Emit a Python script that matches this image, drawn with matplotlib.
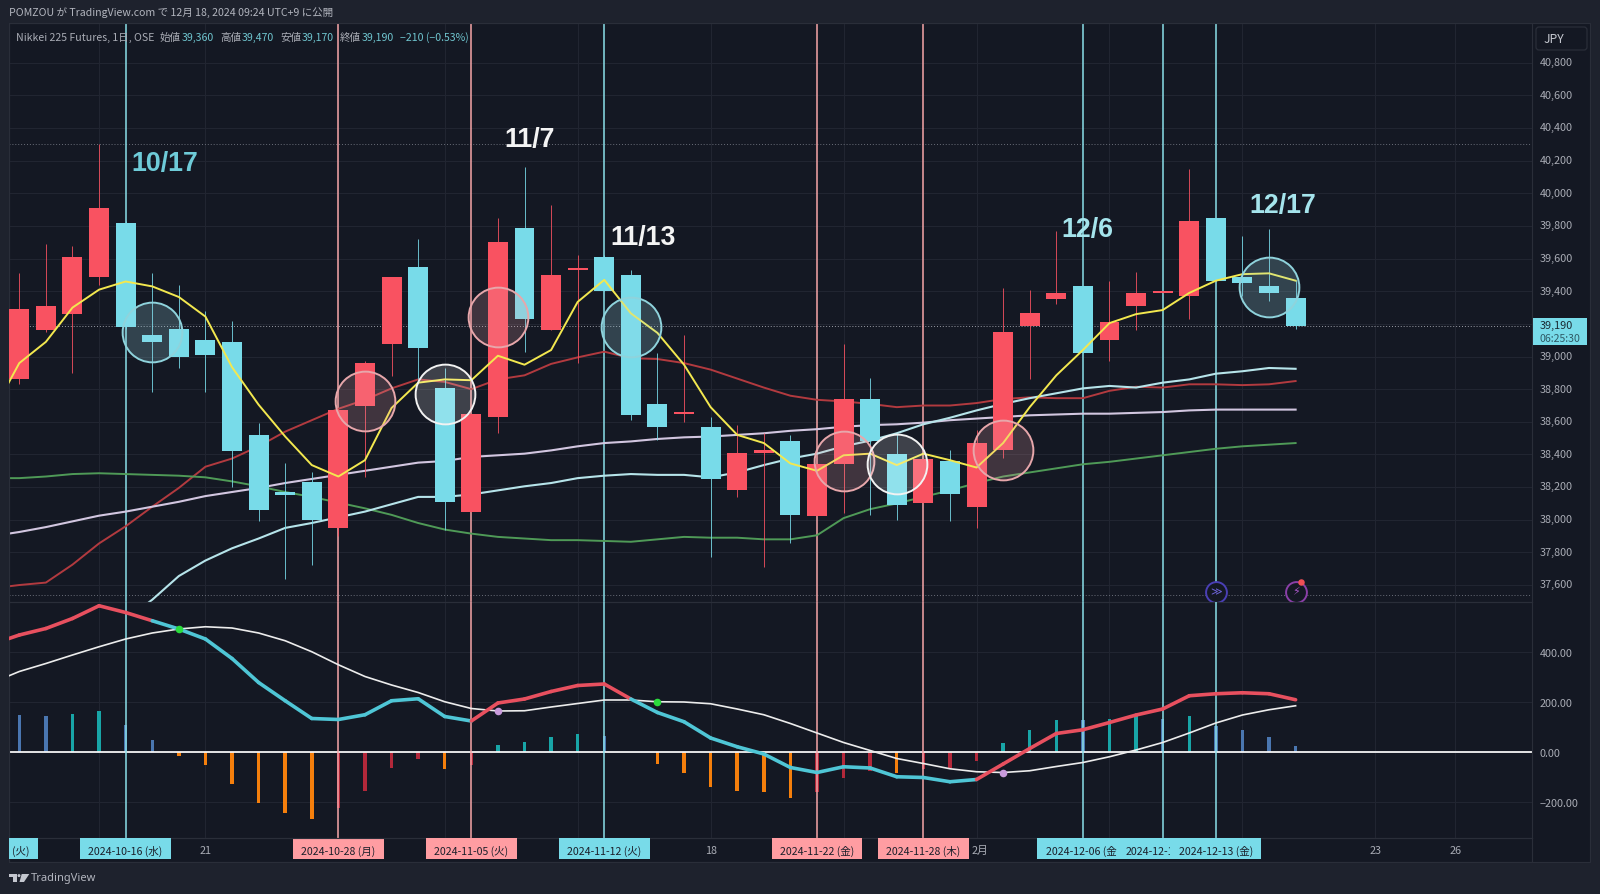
import numpy as np
import matplotlib
matplotlib.use("Agg")
import matplotlib.pyplot as plt
from matplotlib.patches import Rectangle, FancyBboxPatch, Polygon, Circle
from matplotlib.transforms import ScaledTranslation

plt.rcParams['font.family'] = ['Noto Sans CJK JP', 'DejaVu Sans']

# candles, one per session
opens = [38860, 39160, 39260, 39490, 39820, 39130, 39170, 39100, 39090, 38520,
         38170, 38230, 37950, 38700, 39080, 39550, 38810, 38050, 38630, 39790,
         39160, 39530, 39610, 39500, 38710, 38650, 38570, 38180, 38410, 38480,
         38020, 38340, 38740, 38400, 38100, 38360, 38080, 38430, 39190, 39350,
         39430, 39100, 39310, 39390, 39370, 39850, 39490, 39430, 39360]
closes = [39290, 39310, 39610, 39910, 39180, 39090, 39000, 39010, 38420, 38060,
          38150, 38000, 38670, 38960, 39490, 39050, 38110, 38650, 39700, 39230,
          39500, 39540, 39400, 38640, 38570, 38660, 38250, 38410, 38430, 38030,
          38340, 38740, 38480, 38090, 38370, 38160, 38470, 39150, 39270, 39390,
          39020, 39210, 39390, 39400, 39830, 39460, 39450, 39390, 39190]
highs = [39510, 39690, 39680, 40300, 39830, 39510, 39440, 39280, 39220, 38590,
         38350, 38290, 38680, 38970, 39490, 39720, 38930, 38650, 39850, 40160,
         39930, 39620, 39620, 39530, 39020, 39130, 38630, 38580, 38530, 38520,
         38340, 39080, 38870, 38530, 38370, 38430, 38550, 39420, 39410, 39770,
         39430, 39460, 39520, 39400, 40150, 39850, 39740, 39780, 39470]
lows = [38830, 39150, 38900, 39440, 39170, 38780, 38930, 38780, 38200, 37990,
        37640, 37720, 37900, 38260, 38880, 38860, 37940, 38050, 38530, 39030,
        39160, 38960, 39400, 38610, 38490, 38600, 37770, 38140, 37710, 37860,
        38020, 38040, 38030, 38000, 38100, 37990, 37950, 38380, 38860, 39320,
        39020, 38970, 39160, 39390, 39230, 39460, 39370, 39340, 39170]

# moving averages, first value sits one session left of the visible range
ma_yellow = [38660, 38960, 39090, 39300, 39410, 39460, 39430, 39365, 39245, 38935,
             38705, 38510, 38335, 38265, 38365, 38685, 38840, 38860, 38855, 39005,
             38950, 39040, 39335, 39470, 39265, 39145, 38950, 38690, 38520, 38470,
             38345, 38300, 38395, 38405, 38335, 38405, 38365, 38320, 38470, 38690,
             38885, 39040, 39205, 39260, 39285, 39390, 39465, 39505, 39510, 39465]
ma_red = [37580, 37600, 37615, 37725, 37855, 37960, 38080, 38195, 38325, 38375,
          38450, 38540, 38610, 38680, 38735, 38805, 38860, 38845, 38800, 38860,
          38885, 38955, 38995, 39030, 38990, 38985, 38960, 38920, 38865, 38810,
          38760, 38735, 38725, 38710, 38690, 38700, 38700, 38715, 38740, 38750,
          38745, 38745, 38790, 38815, 38810, 38830, 38830, 38825, 38830, 38850]
ma_lavender = [37900, 37925, 37955, 37990, 38025, 38050, 38080, 38110, 38145, 38170,
               38195, 38225, 38250, 38275, 38300, 38325, 38350, 38360, 38385, 38395,
               38405, 38425, 38450, 38470, 38480, 38495, 38505, 38510, 38520, 38530,
               38545, 38555, 38570, 38580, 38585, 38595, 38610, 38620, 38630, 38640,
               38645, 38650, 38650, 38655, 38660, 38670, 38675, 38675, 38675, 38675]
ma_green = [38255, 38255, 38265, 38280, 38285, 38280, 38275, 38270, 38260, 38235,
            38205, 38170, 38140, 38105, 38070, 38030, 37980, 37940, 37915, 37895,
            37885, 37875, 37875, 37870, 37865, 37880, 37895, 37890, 37890, 37880,
            37880, 37905, 38010, 38065, 38100, 38140, 38180, 38225, 38265, 38290,
            38315, 38340, 38355, 38375, 38395, 38415, 38435, 38450, 38460, 38470]
# this one only starts at session 4
ma_blue = [37385, 37510, 37655, 37750, 37825, 37885, 37950, 37980, 38015, 38050,
           38095, 38140, 38140, 38155, 38180, 38205, 38225, 38255, 38270, 38280,
           38275, 38275, 38260, 38290, 38335, 38375, 38405, 38450, 38485, 38530,
           38585, 38625, 38670, 38710, 38745, 38775, 38805, 38820, 38810, 38840,
           38860, 38895, 38910, 38930, 38925]

# MACD pane, also starting one session left of the visible range
macd = [431, 467, 493, 533, 584, 557, 524, 491, 451, 373, 277, 204, 133, 129, 148,
        204, 212, 141, 123, 195, 211, 241, 265, 271, 211, 157, 120, 55, 20, -9, -63,
        -83, -60, -65, -100, -103, -120, -111, -49, 13, 73, 88, 117, 147, 171, 224,
        232, 236, 232, 208]
signal = [277, 321, 353, 387, 420, 451, 475, 491, 500, 495, 475, 444, 400, 348, 301,
          267, 237, 200, 173, 163, 164, 179, 193, 207, 207, 200, 199, 192, 171, 148,
          113, 75, 37, 5, -27, -47, -68, -80, -83, -76, -59, -43, -20, 7, 37, 75,
          115, 147, 168, 184]
hist = [146, 144, 151, 164, 107, 47, -16, -53, -129, -205, -243, -269, -223, -156, -65,
        -29, -69, -53, 28, 41, 60, 71, 64, 0, -47, -83, -140, -157, -160, -183, -160,
        -104, -77, -83, -70, -63, -36, 37, 88, 127, 127, 131, 144, 131, 145, 104, 88,
        60, 24]
macd_red_ranges = [(-1, 5), (17, 23), (36, 48)]
cross_down = [6, 24]
cross_up = [18, 37]

# marked sessions
blue_lines = [4, 22, 40, 43, 45]
pink_lines = [12, 17, 30, 34]
date_labels = [(12, '2024-10-28 (月)', 'pink'), (17, '2024-11-05 (火)', 'pink'),
               (4, '2024-10-16 (水)', 'blue'), (22, '2024-11-12 (火)', 'blue'),
               (30, '2024-11-22 (金)', 'pink'), (34, '2024-11-28 (木)', 'pink'),
               (40, '2024-12-06 (金', 'blue'), (43, '2024-12-1', 'blue'),
               (45, '2024-12-13 (金)', 'blue')]
plain_ticks = [(7, '21'), (26, '18'), (36.12, '2月'), (51, '23'), (54, '26')]
grid_idx = [3, 7, 12, 16, 21, 26, 31, 36, 41, 46, 51, 54]

circles_blue = [(5, 39150), (23, 39180), (47, 39425)]
circles_pink = [(13, 38725), (18, 39240), (31, 38360), (37, 38430)]
circles_white = [(16, 38770), (33, 38340)]
notes = [('10/17', 5.46, 40186, '#6ecbd8'), ('11/7', 19.2, 40333, '#f4f4f4'),
         ('11/13', 23.45, 39734, '#f4f4f4'), ('12/6', 40.15, 39782, '#a5e4ec'),
         ('12/17', 47.5, 39929, '#a5e4ec')]

OUTER = '#1e222d'
PANE = '#141823'
GRID = '#222632'
BORDER = '#2a2e39'
TEXT = '#a9acb5'
UP = '#f95261'
DOWN = '#78dbe9'
LINE_BLUE = '#8adfe9'
LINE_PINK = '#f6a5a8'

W, H = 1600, 895
fig = plt.figure(figsize=(W / 100, H / 100), dpi=100, facecolor=OUTER)


def add_px_axes(left, top, right, bottom):
    return fig.add_axes([left / W, 1 - bottom / H, (right - left) / W, (bottom - top) / H])


back = fig.add_axes([0, 0, 1, 1], zorder=-1)
back.set_xlim(0, W)
back.set_ylim(H, 0)
back.axis('off')
back.add_patch(Rectangle((9, 24), 1581, 839, fc=PANE, ec=BORDER, lw=0.8))

ax = add_px_axes(9, 24, 1532, 603)
ax_m = add_px_axes(9, 603, 1532, 839)
ax_t = add_px_axes(9, 839, 1532, 863)
xlim = (-0.387, 56.89)
for a in (ax, ax_m, ax_t):
    a.set_xlim(xlim)
    a.set_facecolor('none')
    for s in a.spines.values():
        s.set_color(BORDER)
        s.set_linewidth(0.8)
    a.tick_params(length=0, labelbottom=False)

# price pane
ax.set_ylim(37496, 41044)
ax.yaxis.tick_right()
price_ticks = np.arange(37600, 41000, 200)
ax.set_yticks(price_ticks)
ax.set_yticklabels([f'{v:,}' for v in price_ticks], color=TEXT, fontsize=7.8)
ax.tick_params(axis='y', pad=5.5, length=0, labelright=True, labelleft=False)
ax.set_xticks(grid_idx)
ax.grid(True, color=GRID, lw=0.7, zorder=0)
ax.set_axisbelow(True)

# price labels sit a touch above their grid lines
nudge = ScaledTranslation(0, 1.2 / 72, fig.dpi_scale_trans)
for lab in ax.get_yticklabels(which='major'):
    lab.set_transform(lab.get_transform() + nudge)

for level in (40300, 37540):
    ax.axhline(level, color='#6a6e79', lw=0.7, ls=(0, (1, 2)), zorder=1)
ax.axhline(closes[-1], color='#9a9da6', lw=0.7, ls=(0, (1, 2)), zorder=1)

for i in blue_lines:
    ax.axvline(i, color=LINE_BLUE, lw=1.1, zorder=1.5)
    ax_m.axvline(i, color=LINE_BLUE, lw=1.1, zorder=3)
for i in pink_lines:
    ax.axvline(i, color=LINE_PINK, lw=1.1, zorder=1.5)
    ax_m.axvline(i, color=LINE_PINK, lw=1.1, zorder=3)

x = np.arange(len(opens))
x_ma = np.arange(-1, len(opens))
ax.plot(x_ma, ma_red, color='#b23a3f', lw=1.4, zorder=2)
ax.plot(x_ma, ma_lavender, color='#d2c6e0', lw=1.5, zorder=2)
ax.plot(x_ma, ma_green, color='#4f9a57', lw=1.4, zorder=2)
ax.plot(np.arange(4, len(opens)), ma_blue, color='#b6e4ea', lw=1.5, zorder=2)

o = np.array(opens)
c = np.array(closes)
colors = np.where(c >= o, UP, DOWN)
ax.vlines(x, lows, highs, colors=colors, lw=0.7, alpha=0.85, zorder=3)
ax.bar(x, np.abs(c - o), bottom=np.minimum(o, c), width=0.75, color=colors, lw=0, zorder=3.1)
ax.plot(x_ma, ma_yellow, color='#f3e84f', lw=1.4, zorder=4)

for pts, edge, fill in ((circles_blue, '#8fd3dc', (0.62, 0.87, 0.92, 0.22)),
                        (circles_pink, '#e7a7ab', (0.95, 0.65, 0.68, 0.2)),
                        (circles_white, '#f2f2f2', (1, 1, 1, 0.18))):
    ax.scatter([p[0] for p in pts], [p[1] for p in pts], s=1850, facecolor=fill,
               edgecolor=edge, lw=1.4, zorder=5)

for txt, nx, ny, col in notes:
    ax.text(nx, ny, txt, color=col, fontsize=19.3, fontweight='bold', family='Liberation Sans',
            ha='center', va='center', zorder=6)

# alert icons sitting on the low line
ax.scatter([45], [37560], s=225, facecolor=PANE, edgecolor='#4a3fb5', lw=1.4, zorder=5)
ax.text(45, 37560, '≫', color='#6d63d8', fontsize=8, family='DejaVu Sans', ha='center',
        va='center', zorder=6)
ax.scatter([48], [37560], s=225, facecolor=PANE, edgecolor='#8a3fa8', lw=1.4, zorder=5)
ax.text(48, 37560, '⚡', color='#a957c8', fontsize=8, family='DejaVu Sans', ha='center',
        va='center', zorder=6)
ax.scatter([48.2], [37620], s=22, color='#ef4f55', lw=0, zorder=7)

# MACD pane
ax_m.set_ylim(-345, 599)
ax_m.yaxis.tick_right()
ax_m.set_yticks([400, 200, 0, -200])
ax_m.set_yticklabels(['400.00', '200.00', '0.00', '−200.00'], color=TEXT, fontsize=7.8)
ax_m.tick_params(axis='y', pad=5.5, length=0, labelright=True, labelleft=False)
ax_m.set_xticks(grid_idx)
ax_m.grid(True, color=GRID, lw=0.7, zorder=0)
ax_m.set_axisbelow(True)

h = np.array(hist)
prev = np.r_[150, h[:-1]]
bar_colors = []
for now, before in zip(h, prev):
    if now >= 0:
        bar_colors.append('#18a5a7' if now > before else '#4a76b0')
    else:
        bar_colors.append('#f57f0c' if now < before else '#b3283a')
ax_m.bar(x, h, width=0.13, color=bar_colors, lw=0, zorder=2)
ax_m.axhline(0, color='#f4f4f4', lw=1.3, zorder=2.5)
ax_m.plot(x_ma, signal, color='#ececec', lw=1.2, zorder=4)

macd_s = np.array(macd)
for i in range(-1, len(opens) - 1):
    red = any(a <= i < b for a, b in macd_red_ranges)
    ax_m.plot([i, i + 1], macd_s[[i + 1, i + 2]], color='#e8505f' if red else '#4fc6d6',
              lw=2.6, solid_capstyle='round', zorder=4.5)
sig = np.array(signal)
ax_m.scatter(cross_down, sig[np.array(cross_down) + 1], s=30, color='#2bdc3d', lw=0, zorder=5)
ax_m.scatter(cross_up, sig[np.array(cross_up) + 1], s=30, color='#c99bdc', lw=0, zorder=5)

# time axis
ax_t.set_ylim(0, 1)
ax_t.set_yticks([])
ax_t.set_xticks([])
for i, txt in plain_ticks:
    ax_t.text(i, 0.49, txt, color=TEXT, fontsize=7.8, ha='center', va='center', zorder=1)
for n, (i, txt, kind) in enumerate(date_labels):
    fill = DOWN if kind == 'blue' else '#ff9da2'
    ax_t.add_patch(Rectangle((i - 1.71, 0.12), 3.42, 0.88, fc=fill, lw=0, zorder=2 + n))
    ax_t.text(i - 1.4, 0.47, txt, color='#1b1f2a', fontsize=7.6, ha='left', va='center',
              zorder=2 + n)
# the label of a session just left of the visible range, only its tail shows
ax_t.add_patch(Rectangle((-1 - 1.71, 0.12), 3.42, 0.88, fc=DOWN, lw=0, zorder=20))
ax_t.text(0.045, 0.47, '(火)', color='#1b1f2a', fontsize=7.6, ha='center', va='center', zorder=21)

# chrome around the chart, in pixels
ov = fig.add_axes([0, 0, 1, 1], zorder=10)
ov.set_xlim(0, W)
ov.set_ylim(H, 0)
ov.axis('off')
ov.patch.set_alpha(0)

ov.text(9, 13, 'POMZOU が TradingView.com で 12月 18, 2024 09:24 UTC+9 に公開', color='#b2b5be',
        fontsize=7.6, va='center')
VAL = '#6fc5cf'
for tx, txt, col in [(16, 'Nikkei 225 Futures, 1日, OSE', TEXT), (160, '始値', TEXT),
                     (182, '39,360', VAL), (220, '高値', TEXT), (242, '39,470', VAL),
                     (280, '安値', TEXT), (302, '39,170', VAL), (340, '終値', TEXT),
                     (362, '39,190', VAL), (400, '−210 (−0.53%)', VAL)]:
    ov.text(tx, 37.5, txt, color=col, fontsize=7.6, va='center')

ov.add_patch(FancyBboxPatch((1538, 30), 47, 19, boxstyle='round,pad=2,rounding_size=3',
                            fc=PANE, ec=BORDER, lw=0.9))
ov.text(1544, 39.5, 'JPY', color='#c4c7cf', fontsize=8.8, va='center')

ov.add_patch(Rectangle((1533, 319), 54, 27, fc=DOWN, lw=0))
ov.text(1540, 326, '39,190', color='#1b2a33', fontsize=7.8, va='center')
ov.text(1540, 339, '06:25:30', color='#2f5a66', fontsize=7.6, va='center')

# TradingView mark
logo = '#c4c7cf'
ov.add_patch(Polygon([(9, 875), (17, 875), (17, 883), (13, 883), (13, 877.5), (9, 877.5)],
                     fc=logo, lw=0))
ov.add_patch(Circle((19, 876.6), 1.5, fc=logo, lw=0))
ov.add_patch(Polygon([(21.7, 875), (29.3, 875), (24, 883), (19.5, 883)], fc=logo, lw=0))
ov.text(30.5, 879, 'TradingView', color='#b2b5be', fontsize=8, va='center', family='Noto Sans')

fig.savefig('out.png', dpi=100, facecolor=OUTER)
